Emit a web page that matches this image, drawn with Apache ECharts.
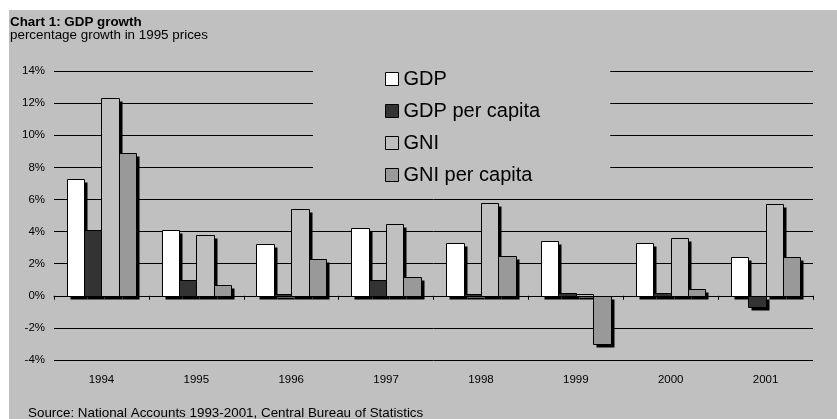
<!DOCTYPE html>
<html>
<head>
<meta charset="utf-8">
<title>Chart 1: GDP growth</title>
<script src="https://cdn.jsdelivr.net/npm/echarts@6/dist/echarts.min.js"></script>
<style>
  html, body { margin: 0; padding: 0; background: #ffffff; }
  #chart { width: 837px; height: 419px; }
</style>
</head>
<body>
<div id="chart"></div>
<script>
// Annual growth rates (%), 1995 prices
const years = ['1994', '1995', '1996', '1997', '1998', '1999', '2000', '2001'];
const gdp = [7.3, 4.1, 3.2, 4.2, 3.3, 3.4, 3.3, 2.4];
const gdpPerCapita = [4.1, 1.0, 0.1, 1.0, 0.1, 0.2, 0.2, -0.7];
const gni = [12.3, 3.8, 5.4, 4.5, 5.8, 0.1, 3.6, 5.7];
const gniPerCapita = [8.9, 0.7, 2.3, 1.2, 2.5, -3.0, 0.4, 2.4];

const seriesNames = ['GDP', 'GDP per capita', 'GNI', 'GNI per capita'];
const seriesColors = ['#ffffff', '#333333', '#c0c0c0', '#999999'];
const seriesValues = [gdp, gdpPerCapita, gni, gniPerCapita];

const FONT = "'Liberation Sans', Arial, sans-serif";
const BG = '#c0c0c0';
const BAR_RATIO = 0.1834;   // bar width as a share of one category band
const SHADOW = 3;           // drop-shadow offset, px

const chart = echarts.init(document.getElementById('chart'), null, { renderer: 'canvas' });

// Each bar is drawn as a solid black drop shadow followed by the outlined bar,
// placed side by side within its year band using the axis scales.
function barRenderer(seriesIdx) {
  const n = seriesNames.length;
  return function (params, api) {
    const cat = api.value(0);
    const val = api.value(1);
    const base = api.coord([cat, 0]);
    const end = api.coord([cat, val]);
    const band = api.size([1, 0])[0];
    const barW = band * BAR_RATIO;
    const left = base[0] - (n / 2) * barW + seriesIdx * barW;
    const x0 = Math.round(left) + 0.5;
    const x1 = Math.round(left + barW) + 0.5;
    const yA = Math.round(Math.min(base[1], end[1])) + 0.5;
    const yB = Math.round(Math.max(base[1], end[1])) + 0.5;
    const w = x1 - x0;
    const h = Math.max(yB - yA, 1);
    return {
      type: 'group',
      children: [
        {
          type: 'rect',
          shape: { x: x0 + SHADOW, y: yA + SHADOW, width: w, height: h },
          style: { fill: '#000' },
          silent: true
        },
        {
          type: 'rect',
          shape: { x: x0, y: yA, width: w, height: h },
          style: { fill: seriesColors[seriesIdx], stroke: '#000', lineWidth: 1 }
        }
      ]
    };
  };
}

const option = {
  animation: false,
  backgroundColor: '#ffffff',
  textStyle: { fontFamily: FONT, color: '#000' },
  graphic: [{
    type: 'rect',
    z: -10,
    silent: true,
    shape: { x: 9, y: 10, width: 828, height: 409 },
    style: { fill: BG }
  }],
  title: [
    {
      text: 'Chart 1: GDP growth',
      left: 10, top: 15, padding: 0,
      textStyle: { fontFamily: FONT, fontSize: 13.4, fontWeight: 'bold', color: '#000', lineHeight: 14 }
    },
    {
      text: 'percentage growth in 1995 prices',
      left: 10, top: 28, padding: 0,
      textStyle: { fontFamily: FONT, fontSize: 13.4, fontWeight: 'normal', color: '#000', lineHeight: 14 }
    },
    {
      text: 'Source: National Accounts 1993-2001, Central Bureau of Statistics',
      left: 28, top: 406, padding: 0,
      textStyle: { fontFamily: FONT, fontSize: 13.4, fontWeight: 'normal', color: '#000', lineHeight: 14 }
    }
  ],
  legend: {
    orient: 'vertical',
    left: 313,
    top: 60,
    padding: [9, 70, 9, 72],
    backgroundColor: BG,
    itemWidth: 13,
    itemHeight: 13,
    itemGap: 12,
    icon: 'rect',
    data: seriesNames,
    textStyle: { fontFamily: FONT, fontSize: 20, color: '#000', lineHeight: 20 },
    itemStyle: { borderColor: '#000', borderWidth: 1 }
  },
  grid: { left: 54, right: 24, top: 71, bottom: 59, containLabel: false },
  xAxis: [
    {
      type: 'category',
      data: years,
      position: 'bottom',
      axisLine: { show: false, onZero: false },
      axisTick: { show: false },
      axisLabel: { fontFamily: FONT, fontSize: 11.5, color: '#000', margin: 14 },
      splitLine: { show: false }
    },
    {
      type: 'category',
      data: years,
      position: 'top',
      axisLine: { show: true, onZero: true, lineStyle: { color: '#000', width: 1 } },
      axisTick: { show: true, inside: true, length: 4, lineStyle: { color: '#000' } },
      axisLabel: { show: false },
      splitLine: { show: false }
    }
  ],
  yAxis: {
    type: 'value',
    min: -4,
    max: 14,
    interval: 2,
    axisLine: { show: false },
    axisTick: { show: false },
    axisLabel: { formatter: '{value}%', fontFamily: FONT, fontSize: 11.5, color: '#000', margin: 9 },
    splitLine: { show: true, lineStyle: { color: '#000', width: 1 } }
  },
  series: seriesNames.map((name, i) => ({
    name: name,
    type: 'custom',
    xAxisIndex: 0,
    renderItem: barRenderer(i),
    encode: { x: 0, y: 1 },
    data: years.map((y, k) => [k, seriesValues[i][k]]),
    itemStyle: { color: seriesColors[i], borderColor: '#000', borderWidth: 1 },
    emphasis: { disabled: true },
    z: 3
  }))
};

chart.setOption(option);
</script>
</body>
</html>
